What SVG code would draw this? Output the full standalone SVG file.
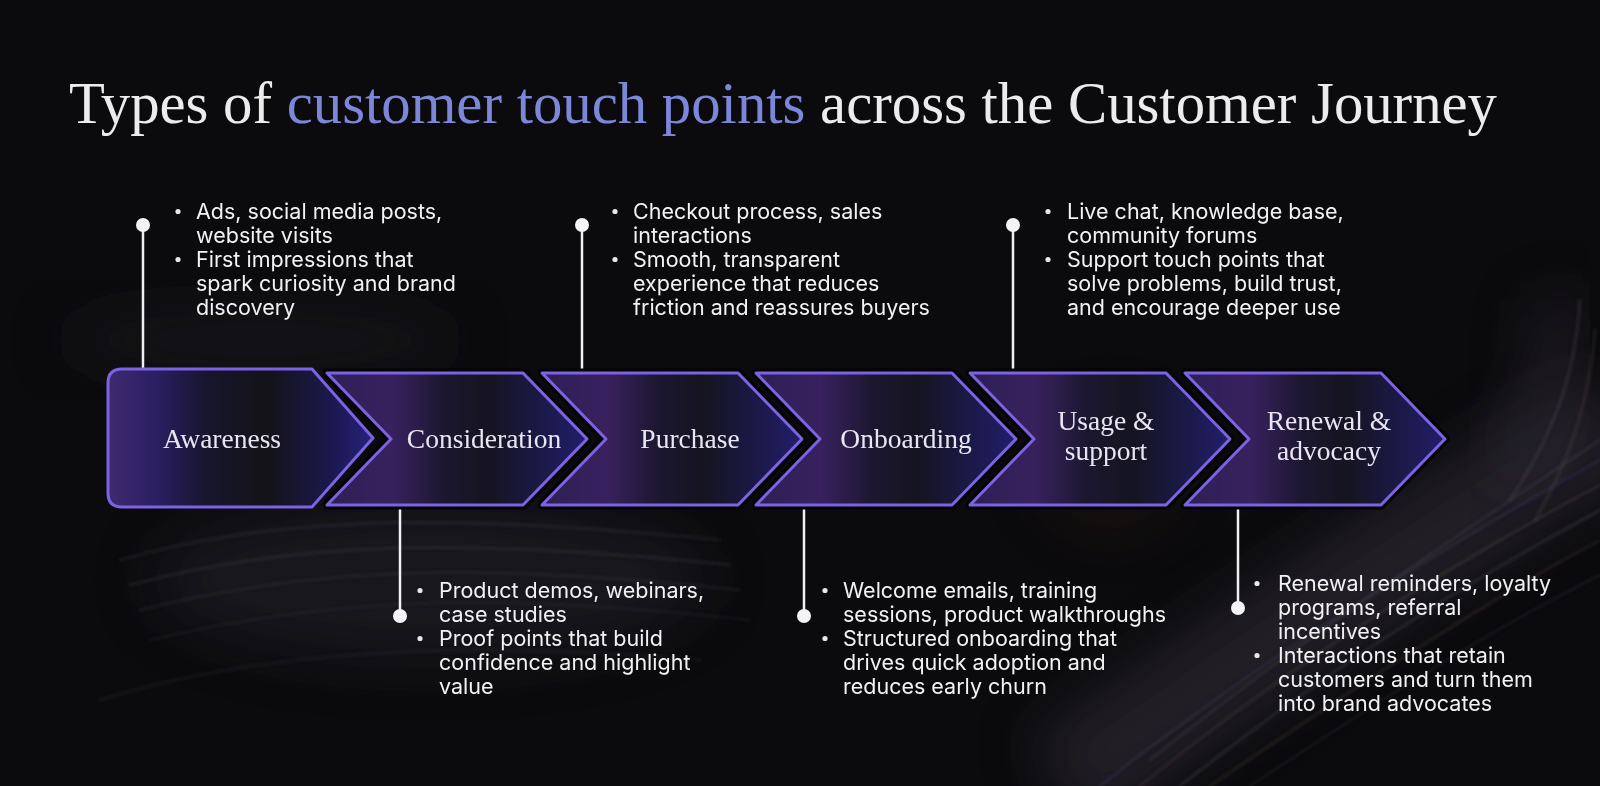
<svg xmlns="http://www.w3.org/2000/svg" width="1600" height="786" viewBox="0 0 1600 786">
  <defs>
    <linearGradient id="gFirst" x1="0" y1="0" x2="1" y2="0">
      <stop offset="0" stop-color="#3f2a70"/>
      <stop offset="0.18" stop-color="#2a1f62"/>
      <stop offset="0.38" stop-color="#17152c"/>
      <stop offset="0.6" stop-color="#131318"/>
      <stop offset="0.85" stop-color="#1c1850"/>
      <stop offset="1" stop-color="#28227f"/>
    </linearGradient>
    <linearGradient id="gChev" x1="0" y1="0" x2="1" y2="0">
      <stop offset="0" stop-color="#2e1f56"/>
      <stop offset="0.25" stop-color="#38215e"/>
      <stop offset="0.45" stop-color="#1c1730"/>
      <stop offset="0.62" stop-color="#151420"/>
      <stop offset="0.86" stop-color="#1c1a4e"/>
      <stop offset="1" stop-color="#231e6c"/>
    </linearGradient>
    <filter id="blur" x="-20%" y="-20%" width="140%" height="140%">
      <feGaussianBlur stdDeviation="1.6"/>
    </filter>
    <filter id="blurBig" x="-50%" y="-50%" width="200%" height="200%">
      <feGaussianBlur stdDeviation="28"/>
    </filter>
    <path id="chev" d="M0,373 L196,373 L260,439 L196,505 L0,505 L64,439 Z"/>
    <style>
      .chev { fill: url(#gChev); stroke: #7c63e4; stroke-width: 3; stroke-linejoin: round; }
      .first { fill: url(#gFirst); stroke: #7c63e4; stroke-width: 3; stroke-linejoin: round; }
      .shadow { fill: none; stroke: #050507; stroke-width: 9; stroke-linejoin: round; }
      .label { font-family: "Liberation Serif", "DejaVu Serif", serif; font-size: 27.5px; fill: #e9e5f2; text-anchor: middle; }
      .body { font-family: Inter, "Liberation Sans", sans-serif; font-size: 21.5px; fill: #f2f2f4; }
      .bullet { fill: #e8e8ea; }
      .line { stroke: #f0f0f2; stroke-width: 2.5; fill: none; }
      .dot { fill: #f4f4f6; }
      .streak { fill: none; stroke-linecap: round; }
    </style>
  </defs>

  <!-- background -->
  <rect x="0" y="0" width="1600" height="786" fill="#0b0b0d"/>
  <g id="background">
    <path d="M1060,786 C1240,660 1420,540 1620,420" stroke="#2c2832" stroke-width="110" fill="none" opacity="0.7" filter="url(#blurBig)"/>
    <path d="M1560,300 C1560,360 1540,420 1500,470" stroke="#2a2630" stroke-width="50" fill="none" opacity="0.6" filter="url(#blurBig)"/>
    <ellipse cx="430" cy="580" rx="280" ry="80" fill="#24242c" opacity="0.55" filter="url(#blurBig)"/>
    <ellipse cx="260" cy="340" rx="200" ry="30" fill="#1c1c22" opacity="0.6" filter="url(#blurBig)"/>
    <ellipse cx="1110" cy="470" rx="70" ry="60" fill="#2e1c18" opacity="0.35" filter="url(#blurBig)"/>
    <g filter="url(#blur)">
      <path class="streak" d="M120,560 C260,520 420,510 720,540" stroke="#6a6a78" stroke-width="3" opacity="0.14"/>
      <path class="streak" d="M130,585 C280,545 440,535 730,565" stroke="#7a7a88" stroke-width="3" opacity="0.13"/>
      <path class="streak" d="M140,610 C300,570 460,560 740,590" stroke="#6a6a7a" stroke-width="3" opacity="0.12"/>
      <path class="streak" d="M150,640 C320,600 480,590 750,620" stroke="#5a5a6a" stroke-width="3" opacity="0.1"/>
      <path class="streak" d="M100,700 C260,650 460,640 700,660" stroke="#4a4a5a" stroke-width="4" opacity="0.12"/>
      <path class="streak" d="M1100,786 C1260,660 1420,560 1600,460" stroke="#6b5bb8" stroke-width="2" opacity="0.22"/>
      <path class="streak" d="M1140,786 C1290,665 1440,570 1600,485" stroke="#9a7a62" stroke-width="2" opacity="0.22"/>
      <path class="streak" d="M1180,786 C1320,675 1460,585 1600,510" stroke="#8a8a96" stroke-width="2" opacity="0.2"/>
      <path class="streak" d="M1150,760 C1300,640 1450,540 1600,440" stroke="#8a8a96" stroke-width="2" opacity="0.18"/>
      <path class="streak" d="M1210,786 C1350,690 1480,605 1600,540" stroke="#b08060" stroke-width="2" opacity="0.16"/>
      <path class="streak" d="M1250,786 C1380,700 1490,630 1600,575" stroke="#7060a0" stroke-width="2" opacity="0.14"/>
      <path class="streak" d="M1580,300 C1575,380 1550,440 1510,500" stroke="#7a6a80" stroke-width="3" opacity="0.2"/>
      <path class="streak" d="M1595,330 C1590,400 1570,460 1535,520" stroke="#806a5a" stroke-width="3" opacity="0.18"/>
    </g>
  </g>

  <!-- title -->
  <text x="69" y="123" font-family="'Liberation Serif', 'DejaVu Serif', serif" font-size="58.5" fill="#ececec" textLength="1428" lengthAdjust="spacingAndGlyphs">Types of <tspan fill="#7c87da">customer touch points</tspan> across the Customer Journey</text>

  <!-- connectors -->
  <g id="connectors">
    <line class="line" x1="143" y1="225" x2="143" y2="369"/>
    <circle class="dot" cx="143" cy="225" r="7"/>
    <line class="line" x1="582" y1="225" x2="582" y2="373"/>
    <circle class="dot" cx="582" cy="225" r="7"/>
    <line class="line" x1="1013" y1="225" x2="1013" y2="373"/>
    <circle class="dot" cx="1013" cy="225" r="7"/>
    <line class="line" x1="400" y1="505" x2="400" y2="616"/>
    <circle class="dot" cx="400" cy="616" r="7"/>
    <line class="line" x1="804" y1="505" x2="804" y2="616"/>
    <circle class="dot" cx="804" cy="616" r="7"/>
    <line class="line" x1="1238" y1="505" x2="1238" y2="608"/>
    <circle class="dot" cx="1238" cy="608" r="7"/>
  </g>

  <!-- stages -->
  <g id="awareness">
    <path class="first" d="M122,369 L312,369 L373,438 L312,507 L122,507 Q108,507 108,493 L108,383 Q108,369 122,369 Z"/>
    <text class="label" x="222" y="448">Awareness</text>
    <g id="awareness-points">
      <circle class="bullet" cx="178" cy="211.5" r="2.6"/>
      <circle class="bullet" cx="178" cy="259.5" r="2.6"/>
      <text class="body">
        <tspan x="196" y="219">Ads, social media posts,</tspan>
        <tspan x="196" y="243">website visits</tspan>
        <tspan x="196" y="267">First impressions that</tspan>
        <tspan x="196" y="291">spark curiosity and brand</tspan>
        <tspan x="196" y="315">discovery</tspan>
      </text>
    </g>
  </g>

  <g id="consideration">
    <use href="#chev" class="shadow" transform="translate(327,0)"/>
    <use href="#chev" class="chev" transform="translate(327,0)"/>
    <text class="label" x="484" y="448">Consideration</text>
    <g id="consideration-points">
      <circle class="bullet" cx="420" cy="590.5" r="2.6"/>
      <circle class="bullet" cx="420" cy="638.5" r="2.6"/>
      <text class="body">
        <tspan x="439" y="598">Product demos, webinars,</tspan>
        <tspan x="439" y="622">case studies</tspan>
        <tspan x="439" y="646">Proof points that build</tspan>
        <tspan x="439" y="670">confidence and highlight</tspan>
        <tspan x="439" y="694">value</tspan>
      </text>
    </g>
  </g>

  <g id="purchase">
    <use href="#chev" class="shadow" transform="translate(542,0)"/>
    <use href="#chev" class="chev" transform="translate(542,0)"/>
    <text class="label" x="690" y="448">Purchase</text>
    <g id="purchase-points">
      <circle class="bullet" cx="615" cy="211.5" r="2.6"/>
      <circle class="bullet" cx="615" cy="259.5" r="2.6"/>
      <text class="body">
        <tspan x="633" y="219">Checkout process, sales</tspan>
        <tspan x="633" y="243">interactions</tspan>
        <tspan x="633" y="267">Smooth, transparent</tspan>
        <tspan x="633" y="291">experience that reduces</tspan>
        <tspan x="633" y="315">friction and reassures buyers</tspan>
      </text>
    </g>
  </g>

  <g id="onboarding">
    <use href="#chev" class="shadow" transform="translate(756,0)"/>
    <use href="#chev" class="chev" transform="translate(756,0)"/>
    <text class="label" x="906" y="448">Onboarding</text>
    <g id="onboarding-points">
      <circle class="bullet" cx="825" cy="590.5" r="2.6"/>
      <circle class="bullet" cx="825" cy="638.5" r="2.6"/>
      <text class="body">
        <tspan x="843" y="598">Welcome emails, training</tspan>
        <tspan x="843" y="622">sessions, product walkthroughs</tspan>
        <tspan x="843" y="646">Structured onboarding that</tspan>
        <tspan x="843" y="670">drives quick adoption and</tspan>
        <tspan x="843" y="694">reduces early churn</tspan>
      </text>
    </g>
  </g>

  <g id="usage-support">
    <use href="#chev" class="shadow" transform="translate(970,0)"/>
    <use href="#chev" class="chev" transform="translate(970,0)"/>
    <text class="label" x="1106" y="430">Usage &amp;</text>
    <text class="label" x="1106" y="460">support</text>
    <g id="usage-support-points">
      <circle class="bullet" cx="1048" cy="211.5" r="2.6"/>
      <circle class="bullet" cx="1048" cy="259.5" r="2.6"/>
      <text class="body">
        <tspan x="1067" y="219">Live chat, knowledge base,</tspan>
        <tspan x="1067" y="243">community forums</tspan>
        <tspan x="1067" y="267">Support touch points that</tspan>
        <tspan x="1067" y="291">solve problems, build trust,</tspan>
        <tspan x="1067" y="315">and encourage deeper use</tspan>
      </text>
    </g>
  </g>

  <g id="renewal-advocacy">
    <use href="#chev" class="shadow" transform="translate(1185,0)"/>
    <use href="#chev" class="chev" transform="translate(1185,0)"/>
    <text class="label" x="1329" y="430">Renewal &amp;</text>
    <text class="label" x="1329" y="460">advocacy</text>
    <g id="renewal-advocacy-points">
      <circle class="bullet" cx="1257" cy="583.5" r="2.6"/>
      <circle class="bullet" cx="1257" cy="655.5" r="2.6"/>
      <text class="body">
        <tspan x="1278" y="591">Renewal reminders, loyalty</tspan>
        <tspan x="1278" y="615">programs, referral</tspan>
        <tspan x="1278" y="639">incentives</tspan>
        <tspan x="1278" y="663">Interactions that retain</tspan>
        <tspan x="1278" y="687">customers and turn them</tspan>
        <tspan x="1278" y="711">into brand advocates</tspan>
      </text>
    </g>
  </g>
</svg>
